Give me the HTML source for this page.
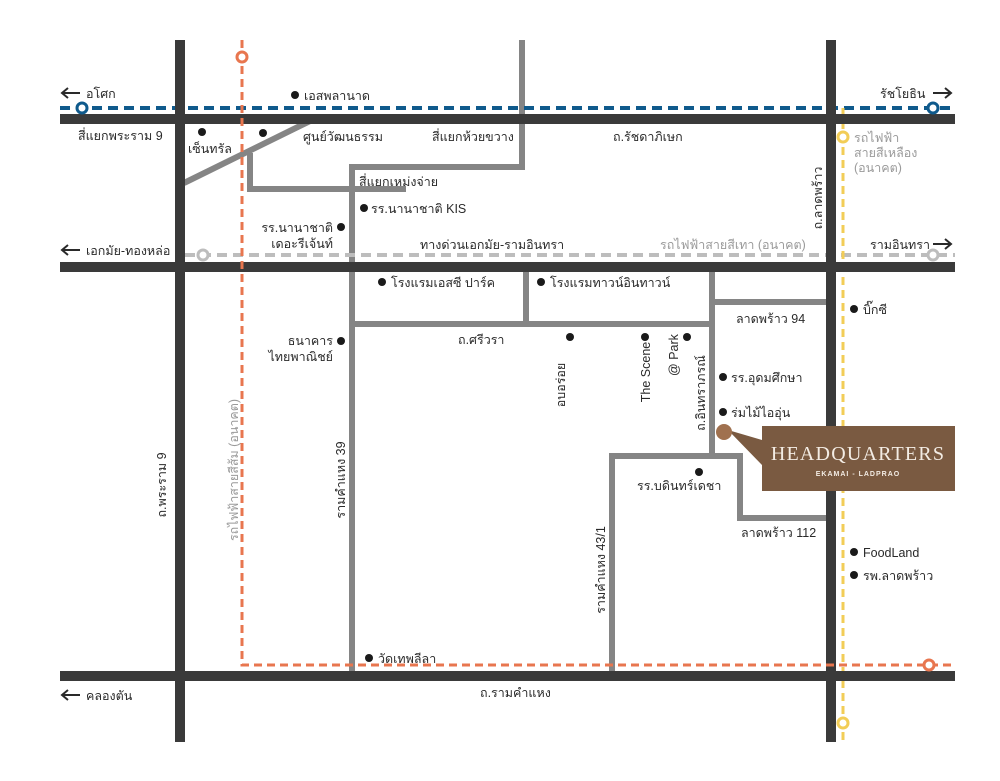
<!DOCTYPE html>
<html><head><meta charset="utf-8"><style>
html,body{margin:0;padding:0;background:#fff}
svg{display:block}
text{font-family:"Liberation Sans","Noto Sans CJK SC",sans-serif;font-size:12.5px;fill:#2a2a2a}
.g{fill:#9a9a9a}
</style></head><body>
<svg width="1000" height="781" viewBox="0 0 1000 781" xmlns="http://www.w3.org/2000/svg">
<rect width="1000" height="781" fill="#fff"/>
<g stroke="#858585" stroke-width="6" fill="none">
<line x1="184" y1="183" x2="310" y2="121"/>
<polyline points="250,153 250,189 406,189"/>
<polyline points="352,672 352,167 522,167 522,40"/>
<line x1="352" y1="324" x2="712" y2="324"/>
<line x1="526" y1="267" x2="526" y2="324"/>
<polyline points="712,267 712,456"/>
<line x1="712" y1="302" x2="826" y2="302"/>
<polyline points="612,672 612,456 740,456 740,518 826,518"/>
</g>
<line x1="60" y1="108" x2="955" y2="108" stroke="#0f5a8c" stroke-width="4" stroke-dasharray="10,6"/>
<line x1="185" y1="255" x2="955" y2="255" stroke="#bdbdbd" stroke-width="4" stroke-dasharray="10,6"/>
<line x1="843" y1="108" x2="843" y2="742" stroke="#f2cd57" stroke-width="3" stroke-dasharray="8,5"/>
<g fill="#3a3a3a">
<rect x="60" y="114" width="895" height="10"/>
<rect x="60" y="262" width="895" height="10"/>
<rect x="60" y="671" width="895" height="10"/>
<rect x="175" y="40" width="10" height="702"/>
<rect x="826" y="40" width="10" height="702"/>
</g>
<polyline points="242,40 242,665 955,665" fill="none" stroke="#e8764f" stroke-width="3" stroke-dasharray="8,5"/>
<g fill="#fff" stroke-width="3">
<circle cx="82" cy="108" r="5" stroke="#0f5a8c"/>
<circle cx="933" cy="108" r="5" stroke="#0f5a8c"/>
<circle cx="203" cy="255" r="5" stroke="#bdbdbd"/>
<circle cx="933" cy="255" r="5" stroke="#bdbdbd"/>
<circle cx="242" cy="57" r="5" stroke="#e8764f"/>
<circle cx="929" cy="665" r="5" stroke="#e8764f"/>
<circle cx="843" cy="137" r="5" stroke="#f2cd57"/>
<circle cx="843" cy="723" r="5" stroke="#f2cd57"/>
</g>
<g stroke="#2a2a2a" stroke-width="2" fill="none">
<path d="M80 93 H62 M68 88 L62 93 L68 98"/>
<path d="M80 250 H62 M68 245 L62 250 L68 255"/>
<path d="M80 695 H62 M68 690 L62 695 L68 700"/>
<path d="M933 93 H951 M945 88 L951 93 L945 98"/>
<path d="M933 244 H951 M945 239 L951 244 L945 249"/>
</g>
<text x="86" y="98">อโศก</text>
<text x="86" y="255">เอกมัย-ทองหล่อ</text>
<text x="86" y="700">คลองตัน</text>
<text x="880" y="98">รัชโยธิน</text>
<text x="870" y="249">รามอินทรา</text>
<g fill="#1a1a1a">
<circle cx="295" cy="95" r="4"/><circle cx="202" cy="132" r="4"/><circle cx="263" cy="133" r="4"/>
<circle cx="364" cy="208" r="4"/><circle cx="341" cy="227" r="4"/>
<circle cx="382" cy="282" r="4"/><circle cx="541" cy="282" r="4"/>
<circle cx="341" cy="341" r="4"/>
<circle cx="570" cy="337" r="4"/><circle cx="645" cy="337" r="4"/><circle cx="687" cy="337" r="4"/>
<circle cx="723" cy="377" r="4"/><circle cx="723" cy="412" r="4"/>
<circle cx="699" cy="472" r="4"/>
<circle cx="854" cy="309" r="4"/><circle cx="854" cy="552" r="4"/><circle cx="854" cy="575" r="4"/>
<circle cx="369" cy="658" r="4"/>
</g>
<text x="304" y="100">เอสพลานาด</text>
<text x="78" y="140">สี่แยกพระราม 9</text>
<text x="188" y="153">เซ็นทรัล</text>
<text x="303" y="141">ศูนย์วัฒนธรรม</text>
<text x="432" y="141">สี่แยกห้วยขวาง</text>
<text x="613" y="141">ถ.รัชดาภิเษก</text>
<text x="359" y="186">สี่แยกเหม่งจ่าย</text>
<text x="371" y="213">รร.นานาชาติ KIS</text>
<text x="333" y="232" text-anchor="end">รร.นานาชาติ</text>
<text x="333" y="248" text-anchor="end">เดอะรีเจ้นท์</text>
<text x="420" y="249">ทางด่วนเอกมัย-รามอินทรา</text>
<text x="660" y="249" class="g">รถไฟฟ้าสายสีเทา (อนาคต)</text>
<text x="391" y="287">โรงแรมเอสซี ปาร์ค</text>
<text x="550" y="287">โรงแรมทาวน์อินทาวน์</text>
<text x="333" y="345" text-anchor="end">ธนาคาร</text>
<text x="333" y="361" text-anchor="end">ไทยพาณิชย์</text>
<text x="458" y="344">ถ.ศรีวรา</text>
<text x="736" y="323">ลาดพร้าว 94</text>
<text x="731" y="382">รร.อุดมศึกษา</text>
<text x="731" y="417">ร่มไม้ไออุ่น</text>
<text x="637" y="490">รร.บดินทร์เดชา</text>
<text x="741" y="537">ลาดพร้าว 112</text>
<text x="863" y="314">บิ๊กซี</text>
<text x="863" y="557">FoodLand</text>
<text x="863" y="580">รพ.ลาดพร้าว</text>
<text x="854" y="142" class="g">รถไฟฟ้า</text>
<text x="854" y="157" class="g">สายสีเหลือง</text>
<text x="854" y="172" class="g">(อนาคต)</text>
<text x="378" y="663">วัดเทพลีลา</text>
<text x="480" y="697">ถ.รามคำแหง</text>
<text transform="translate(166,485) rotate(-90)" text-anchor="middle">ถ.พระราม 9</text>
<text transform="translate(238,470) rotate(-90)" text-anchor="middle" class="g">รถไฟฟ้าสายสีส้ม (อนาคต)</text>
<text transform="translate(345,480) rotate(-90)" text-anchor="middle">รามคำแหง 39</text>
<text transform="translate(565,385) rotate(-90)" text-anchor="middle">อบอร่อย</text>
<text transform="translate(650,372) rotate(-90)" text-anchor="middle">The Scene</text>
<text transform="translate(678,355) rotate(-90)" text-anchor="middle">@ Park</text>
<text transform="translate(705,393) rotate(-90)" text-anchor="middle">ถ.อินทราภรณ์</text>
<text transform="translate(605,570) rotate(-90)" text-anchor="middle">รามคำแหง 43/1</text>
<text transform="translate(822,198) rotate(-90)" text-anchor="middle">ถ.ลาดพร้าว</text>
<polygon points="728,430 762,440 762,465" fill="#7a5a41"/>
<circle cx="724" cy="432" r="8" fill="#a0714f"/>
<rect x="762" y="426" width="193" height="65" fill="#7a5a41"/>
<text x="858" y="460" text-anchor="middle" style="font-family:'Liberation Serif',serif;font-size:20px;fill:#f3ece4;letter-spacing:1.2px">HEADQUARTERS</text>
<text x="858" y="476" text-anchor="middle" style="font-size:7px;fill:#f3ece4;letter-spacing:1px;font-weight:bold">EKAMAI - LADPRAO</text>
</svg>
</body></html>
